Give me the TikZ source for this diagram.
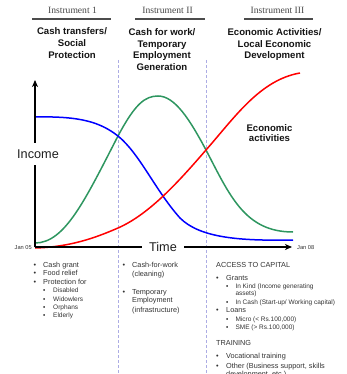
\documentclass[tikz,border=0pt]{standalone}
\usepackage{fontspec}
\setmainfont{Liberation Sans}
\newfontfamily\serifinst{Liberation Serif}
\usetikzlibrary{arrows.meta}
\definecolor{dashcol}{RGB}{172,172,228}
\definecolor{cgreen}{RGB}{46,150,96}
\definecolor{txtgray}{RGB}{50,50,50}
\begin{document}
\begin{tikzpicture}[x=1pt,y=-1pt,
  hd/.style={anchor=base, font=\bfseries\fontsize{9.6}{11.5}\selectfont, text=black!92, inner sep=0},
  inst/.style={anchor=base, font=\serifinst\fontsize{9.6}{11}\selectfont, text=black!72, inner sep=0},
  li/.style={anchor=base west, font=\fontsize{7.3}{8}\selectfont, text=txtgray, inner sep=0},
  sli/.style={anchor=base west, font=\fontsize{6.5}{7}\selectfont, text=txtgray, inner sep=0},
  bul/.style={anchor=base, font=\fontsize{7.3}{8}\selectfont, text=txtgray, inner sep=0},
  sbul/.style={anchor=base, font=\fontsize{6.5}{7}\selectfont, text=txtgray, inner sep=0},
  tiny/.style={font=\fontsize{5.7}{6}\selectfont, text=txtgray, inner sep=0},
  axlab/.style={font=\fontsize{12.7}{14}\selectfont, text=black!88, fill=white},
  ruleline/.style={draw=black!70, line width=1.3pt},
  divline/.style={draw=dashcol, line width=1pt, dash pattern=on 3pt off 2pt},
  curve/.style={line width=1.5pt},
  axis/.style={line width=1.6pt, draw=black, -{Stealth[length=7pt,width=6pt,inset=2pt]}}
]
\useasboundingbox (0,0) rectangle (347,374);

% ---------- instrument headers ----------
\node[inst] (i1) at (72.5,14) {Instrument 1};
\node[inst] (i2) at (167.5,14) {Instrument II};
\node[inst] (i3) at (277.5,14) {Instrument III};
\coordinate (u1a) at (32,19); \coordinate (u1b) at (111,19);
\coordinate (u2a) at (135,19); \coordinate (u2b) at (205,19);
\coordinate (u3a) at (244,19); \coordinate (u3b) at (313,19);
\draw[ruleline] (u1a) -- (u1b);
\draw[ruleline] (u2a) -- (u2b);
\draw[ruleline] (u3a) -- (u3b);

% ---------- headings ----------
\node[hd] (h1a) at (72,35) {Cash transfers/};
\node[hd] (h1b) at (72,46.6) {Social};
\node[hd] (h1c) at (72,58.2) {Protection};
\node[hd] (h2a) at (162,35.5) {Cash for work/};
\node[hd] (h2b) at (162,47.1) {Temporary};
\node[hd] (h2c) at (162,58.7) {Employment};
\node[hd] (h2d) at (162,70.3) {Generation};
\node[hd] (h3a) at (274.5,35.5) {Economic Activities/};
\node[hd] (h3b) at (274.5,47.1) {Local Economic};
\node[hd] (h3c) at (274.5,58.7) {Development};

% ---------- dashed dividers ----------
\coordinate (d1t) at (118,60); \coordinate (d1b) at (118,376);
\coordinate (d2t) at (206,60); \coordinate (d2b) at (206,376);
\draw[divline] (d1t) -- (d1b);
\draw[divline] (d2t) -- (d2b);

% ---------- curves ----------
\draw[curve, cgreen] (35,243) .. controls (65,243) and (85,200) .. (118,136)
  .. controls (135,104) and (145,96) .. (158,96)
  .. controls (175,96) and (190,120) .. (206,150)
  .. controls (230,196) and (245,232) .. (293,232);
\draw[curve, blue] (35,117) .. controls (80,116) and (100,122) .. (118,136)
  .. controls (140,154) and (155,190) .. (180,218)
  .. controls (200,238) and (240,241) .. (293,240);
\draw[curve, red] (35,248) .. controls (70,247) and (95,238) .. (118,228)
  .. controls (150,214) and (180,180) .. (206,150)
  .. controls (235,117) and (260,80) .. (300,73);

% ---------- axes ----------
\coordinate (O) at (35,247);
\coordinate (ytop) at (35,80);
\coordinate (xend) at (292,247);
\draw[axis] (O) -- (ytop);
\draw[axis] (O) -- (xend);
\node[axlab, inner xsep=2pt, inner ysep=6.5pt] (income) at (38,154) {Income};
\node[axlab, inner xsep=7pt, inner ysep=2pt] (time) at (163,247) {Time};
\node[tiny, anchor=base east] (jan05) at (32,249) {Jan 05};
\node[tiny, anchor=base west] (jan08) at (297,249) {Jan 08};

\node[hd] (ea1) at (269.5,131.5) {Economic};
\node[hd] (ea2) at (269.5,142) {activities};

% ---------- left list ----------
\node[bul] (lb1) at (35,267.6) {•};
\node[li] (lt1) at (43,267.6) {Cash grant};
\node[bul] (lb2) at (35,275.9) {•};
\node[li] (lt2) at (43,275.9) {Food relief};
\node[bul] (lb3) at (35,284.9) {•};
\node[li] (lt3) at (43,284.9) {Protection for};
\node[sbul] (ls1) at (44.3,292.6) {▪};
\node[sli] (lst1) at (53,292.6) {Disabled};
\node[sbul] (ls2) at (44.3,301) {▪};
\node[sli] (lst2) at (53,301) {Widowlers};
\node[sbul] (ls3) at (44.3,309) {▪};
\node[sli] (lst3) at (53,309) {Orphans};
\node[sbul] (ls4) at (44.3,317) {▪};
\node[sli] (lst4) at (53,317) {Elderly};

% ---------- middle list ----------
\node[bul] (mb1) at (124,267.6) {•};
\node[li] (mt1) at (132,267.6) {Cash-for-work};
\node[li] (mt2) at (132,276.3) {(cleaning)};
\node[bul] (mb2) at (124,294.3) {•};
\node[li] (mt3) at (132,294.3) {Temporary};
\node[li] (mt4) at (132,302.9) {Employment};
\node[li] (mt5) at (132,312.3) {(infrastructure)};

% ---------- right list ----------
\node[li] (rh1) at (216,267.6) {ACCESS TO CAPITAL};
\node[bul] (rb1) at (217.5,280.3) {•};
\node[li] (rt1) at (226,280.3) {Grants};
\node[sbul] (rs1) at (227.3,288.3) {▪};
\node[sli] (rst1) at (235.3,288.3) {In Kind (Income generating};
\node[sli] (rst1b) at (235.3,295.3) {assets)};
\node[sbul] (rs2) at (227.3,304) {▪};
\node[sli] (rst2) at (235.3,304) {In Cash (Start-up/ Working capital)};
\node[bul] (rb2) at (217.5,312.9) {•};
\node[li] (rt2) at (226,312.9) {Loans};
\node[sbul] (rs3) at (227.3,321) {▪};
\node[sli] (rst3) at (235.3,321) {Micro (< Rs.100,000)};
\node[sbul] (rs4) at (227.3,329.3) {▪};
\node[sli] (rst4) at (235.3,329.3) {SME (> Rs.100,000)};
\node[li] (rh2) at (216,345.9) {TRAINING};
\node[bul] (rb3) at (217.5,358.9) {•};
\node[li] (rt3) at (226,358.9) {Vocational training};
\node[bul] (rb4) at (217.5,368.3) {•};
\node[li] (rt4) at (226,368.3) {Other (Business support, skills};
\node[li] (rt5) at (226,376.6) {development, etc.)};
\end{tikzpicture}
\end{document}
